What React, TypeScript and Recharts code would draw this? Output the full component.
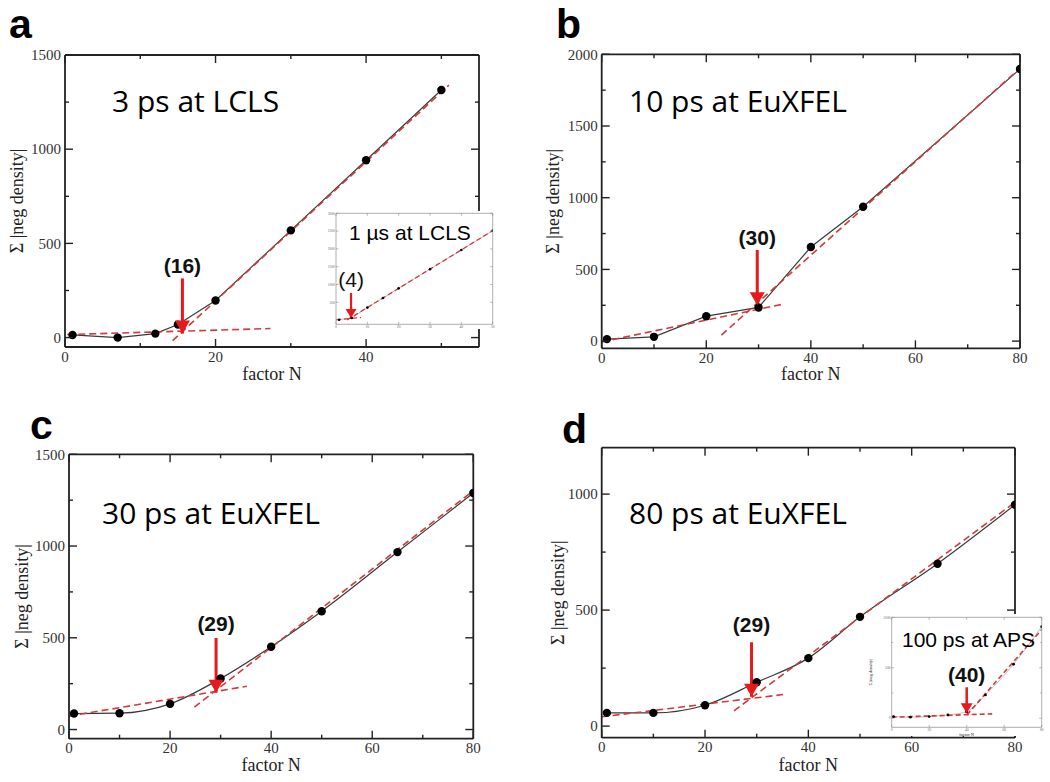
import React from 'react';
import { LineChart, Line, XAxis, YAxis } from 'recharts';

type Pt = { x: number; y: number };
const zip = (xs: number[], ys: number[]): Pt[] => xs.map((x, i) => ({ x, y: ys[i] }));

// ---------------- Panel a : 3 ps at LCLS ----------------
const aFactorN = [1, 7, 12, 15, 20, 30, 40, 50];
const aSumNeg = [14, 0, 21, 69, 197, 569, 941, 1314];
const aFitLowN = [0.3, 27.3];
const aFitLowSum = [16, 48];
const aFitHighN = [14.3, 51];
const aFitHighSum = [-16, 1340];
const aArrowN = [15.6, 15.6];
const aArrowSum = [314, 21];
const aArrowLabel = '(16)';
const aXMajor = [0, 20, 40];
const aXMinor = [10, 30, 50];
const aYMajor = [0, 500, 1000, 1500];
const aYMinor = [250, 750, 1250];

// inset of a : 1 µs at LCLS
const aiFactorN = [1, 5, 10, 15, 20, 30, 40, 50];
const aiSumNeg = [10, 60, 350, 620, 890, 1430, 1970, 2510];
const aiFitLowN = [0, 8];
const aiFitLowSum = [5, 70];
const aiFitHighN = [3.5, 52];
const aiFitHighSum = [0, 2620];
const aiArrowN = [4.8, 4.8];
const aiArrowSum = [763, 56];
const aiArrowLabel = '(4)';
const aiXMajor = [0, 10, 20, 30, 40, 50];
const aiYMajor = [500, 1000, 1500, 2000, 2500, 3000];

// ---------------- Panel b : 10 ps at EuXFEL ----------------
const bFactorN = [1, 10, 20, 30, 40, 50, 80];
const bSumNeg = [14, 30, 174, 235, 656, 937, 1898];
const bFitLowN = [0, 34.7];
const bFitLowSum = [-5, 258];
const bFitHighN = [22.9, 81.4];
const bFitHighSum = [42, 1949];
const bArrowN = [29.75, 29.75];
const bArrowSum = [635, 251];
const bArrowLabel = '(30)';
const bXMajor = [0, 20, 40, 60, 80];
const bXMinor = [10, 30, 50, 70];
const bYMajor = [0, 500, 1000, 1500, 2000];
const bYMinor = [250, 750, 1250, 1750];

// ---------------- Panel c : 30 ps at EuXFEL ----------------
const cFactorN = [1, 10, 20, 30, 40, 50, 65, 80];
const cSumNeg = [87, 89, 140, 278, 451, 645, 967, 1289];
const cFitLowN = [0, 35.2];
const cFitLowSum = [73, 236];
const cFitHighN = [24.8, 80.1];
const cFitHighSum = [122, 1304];
const cArrowN = [29.1, 29.1];
const cArrowSum = [499, 200];
const cArrowLabel = '(29)';
const cXMajor = [0, 20, 40, 60, 80];
const cXMinor = [10, 30, 50, 70];
const cYMajor = [0, 500, 1000, 1500];
const cYMinor = [250, 750, 1250];

// ---------------- Panel d : 80 ps at EuXFEL ----------------
const dFactorN = [1, 10, 20, 30, 40, 50, 65, 80];
const dSumNeg = [57, 57, 90, 189, 293, 471, 700, 954];
const dFitLowN = [0, 35.1];
const dFitLowSum = [40, 136];
const dFitHighN = [25.6, 81.7];
const dFitHighSum = [66, 993];
const dArrowN = [29, 29];
const dArrowSum = [361, 126];
const dArrowLabel = '(29)';
const dXMajor = [0, 20, 40, 60, 80];
const dXMinor = [10, 30, 50, 70];
const dYMajor = [0, 500, 1000];
const dYMinor = [250, 750];

// inset of d : 100 ps at APS
const diFactorN = [1, 10, 20, 30, 40, 50, 65, 80];
const diSumNeg = [16, 10, 16, 33, 65, 231, 535, 907];
const diFitLowN = [0, 53.6];
const diFitLowSum = [10, 43];
const diFitHighN = [40.1, 80.6];
const diFitHighSum = [33, 891];
const diArrowN = [40, 40];
const diArrowSum = [307, 50];
const diArrowLabel = '(40)';
const diXMajor = [0, 20, 40, 60, 80];
const diYMajor = [0, 500, 1000];
const diYMinor = [250, 750];

// titles / text
const xTitle = 'factor N';
const yTitle = 'Σ |neg density|';

const SERIF = '"Liberation Serif", "DejaVu Serif", serif';
const SANS = '"Liberation Sans", Arial, sans-serif';
const TITLE = '"Open Sans", "Noto Sans", sans-serif';
const RED_FIT = '#d23a3c';
const RED_ARROW = '#e6191d';

type TickOpts = {
  major: number; minor: number; color: string; width: number;
  labels: boolean; gap: number; fontSize: number; textColor: string;
};

function makeTick(side: 'bottom' | 'left' | 'top' | 'right', majors: number[], o: TickOpts) {
  return (props: any) => {
    const { x, y, payload } = props;
    const v = payload.value;
    const isMajor = majors.indexOf(v) >= 0;
    const len = isMajor ? o.major : o.minor;
    let x2 = x;
    let y2 = y;
    if (side === 'bottom') y2 = y - len;
    if (side === 'top') y2 = y + len;
    if (side === 'left') x2 = x + len;
    if (side === 'right') x2 = x - len;
    const showText = o.labels && isMajor && (side === 'bottom' || side === 'left');
    return (
      <g>
        <line x1={x} y1={y} x2={x2} y2={y2} stroke={o.color} strokeWidth={o.width} />
        {showText && side === 'bottom' && (
          <text x={x} y={y + o.gap} dy="0.71em" textAnchor="middle" fontFamily={SERIF} fontSize={o.fontSize} fill={o.textColor}>
            {String(v)}
          </text>
        )}
        {showText && side === 'left' && (
          <text x={x - o.gap} y={y} dy="0.35em" textAnchor="end" fontFamily={SERIF} fontSize={o.fontSize} fill={o.textColor}>
            {String(v)}
          </text>
        )}
      </g>
    );
  };
}

type ArrowOpts = { headW: number; headH: number; stroke: number; fontSize: number; bold: boolean; gap: number };

function makeArrowDot(label: string, o: ArrowOpts) {
  return (props: any) => {
    const { cx, cy, index } = props;
    if (index === 0) {
      return (
        <text key={`al${index}`} x={cx} y={cy - o.gap} textAnchor="middle" fontFamily={SANS} fontSize={o.fontSize} fontWeight={o.bold ? 'bold' : 'normal'} fill="#111">
          {label}
        </text>
      );
    }
    return (
      <polygon
        key={`ah${index}`}
        points={`${cx},${cy} ${cx - o.headW / 2},${cy - o.headH} ${cx + o.headW / 2},${cy - o.headH}`}
        fill={RED_ARROW}
        stroke="none"
      />
    );
  };
}

type PanelCfg = {
  left: number; top: number; width: number; height: number;
  margin: { top: number; right: number; bottom: number; left: number };
  yAxisWidth: number; xAxisHeight: number;
  xDomain: [number, number]; yDomain: [number, number];
  xMajor: number[]; xMinor: number[]; yMajor: number[]; yMinor: number[];
  data: Pt[]; fitLow: Pt[]; fitHigh: Pt[]; arrow: Pt[]; arrowLabel: string;
  curve: 'linear' | 'monotone';
  xLabel: string; yLabel: string; xLabelOffset: number; yLabelOffset: number; labelSize: number;
  tick: TickOpts; frameColor: string; frameWidth: number;
  dotR: number; lineColor: string; lineWidth: number;
  fitWidth: number; fitDash: string;
  arrowOpts: ArrowOpts;
  background?: string;
};

function Panel({ c }: { c: PanelCfg }) {
  const xAll = [...c.xMajor, ...c.xMinor].sort((p, q) => p - q);
  const yAll = [...c.yMajor, ...c.yMinor].sort((p, q) => p - q);
  const axisLine = { stroke: c.frameColor, strokeWidth: c.frameWidth };
  const noLabelTick: TickOpts = { ...c.tick, labels: false };
  return (
    <div style={{ position: 'absolute', left: c.left, top: c.top, width: c.width, height: c.height, background: c.background }}>
      <LineChart width={c.width} height={c.height} margin={c.margin}>
        <XAxis
          xAxisId="x" type="number" dataKey="x" domain={c.xDomain} allowDataOverflow
          ticks={xAll} interval={0} tickLine={false} tickSize={0} tickMargin={0}
          height={c.xAxisHeight} axisLine={axisLine} tick={makeTick('bottom', c.xMajor, c.tick)}
          label={c.xLabel ? { value: c.xLabel, position: 'insideBottom', offset: c.xLabelOffset, style: { fontFamily: SERIF, fontSize: c.labelSize, fill: '#222' } } : undefined}
        />
        <XAxis
          xAxisId="xt" orientation="top" mirror type="number" dataKey="x" domain={c.xDomain} allowDataOverflow
          ticks={xAll} interval={0} tickLine={false} tickSize={0} tickMargin={0}
          height={1} axisLine={axisLine} tick={makeTick('top', c.xMajor, noLabelTick)}
        />
        <YAxis
          yAxisId="y" type="number" domain={c.yDomain} allowDataOverflow
          ticks={yAll} interval={0} tickLine={false} tickSize={0} tickMargin={0}
          width={c.yAxisWidth} axisLine={axisLine} tick={makeTick('left', c.yMajor, c.tick)}
          label={c.yLabel ? { value: c.yLabel, angle: -90, position: 'insideLeft', offset: c.yLabelOffset, style: { textAnchor: 'middle', fontFamily: SERIF, fontSize: c.labelSize, fill: '#222' } } : undefined}
        />
        <YAxis
          yAxisId="yr" orientation="right" mirror type="number" domain={c.yDomain} allowDataOverflow
          ticks={yAll} interval={0} tickLine={false} tickSize={0} tickMargin={0}
          width={1} axisLine={axisLine} tick={makeTick('right', c.yMajor, noLabelTick)}
        />
        <Line
          xAxisId="x" yAxisId="y" data={c.data} dataKey="y" type={c.curve}
          stroke={c.lineColor} strokeWidth={c.lineWidth}
          dot={{ r: c.dotR, fill: '#000', stroke: '#000', strokeWidth: 0 }}
          activeDot={false} isAnimationActive={false}
        />
        <Line
          xAxisId="x" yAxisId="y" data={c.fitLow} dataKey="y" type="linear"
          stroke={RED_FIT} strokeWidth={c.fitWidth} strokeDasharray={c.fitDash}
          dot={false} activeDot={false} isAnimationActive={false}
        />
        <Line
          xAxisId="x" yAxisId="y" data={c.fitHigh} dataKey="y" type="linear"
          stroke={RED_FIT} strokeWidth={c.fitWidth} strokeDasharray={c.fitDash}
          dot={false} activeDot={false} isAnimationActive={false}
        />
        <Line
          xAxisId="x" yAxisId="y" data={c.arrow} dataKey="y" type="linear"
          stroke={RED_ARROW} strokeWidth={c.arrowOpts.stroke}
          dot={makeArrowDot(c.arrowLabel, c.arrowOpts)} activeDot={false} isAnimationActive={false}
        />
      </LineChart>
    </div>
  );
}

const mainTick: TickOpts = { major: 8, minor: 4, color: '#222', width: 1.4, labels: true, gap: 4, fontSize: 15, textColor: '#333' };
const insetTick: TickOpts = { major: 2.5, minor: 1.5, color: '#888', width: 0.6, labels: true, gap: 1.2, fontSize: 3.6, textColor: '#666' };
const mainArrow: ArrowOpts = { headW: 15, headH: 13, stroke: 3, fontSize: 21, bold: true, gap: 5 };

const mainBase = {
  width: 525, height: 391, yAxisWidth: 60, xAxisHeight: 40,
  xLabel: xTitle, yLabel: yTitle, labelSize: 18,
  tick: mainTick, frameColor: '#222', frameWidth: 1.8,
  dotR: 4.2, lineColor: '#3a3a3a', lineWidth: 1.2,
  fitWidth: 1.6, fitDash: '7 4',
};

const panelA: PanelCfg = {
  ...mainBase, left: 0, top: 0,
  margin: { top: 55, right: 46, bottom: 4, left: 5 },
  xDomain: [0, 55], yDomain: [-50, 1500],
  xMajor: aXMajor, xMinor: aXMinor, yMajor: aYMajor, yMinor: aYMinor,
  data: zip(aFactorN, aSumNeg), fitLow: zip(aFitLowN, aFitLowSum), fitHigh: zip(aFitHighN, aFitHighSum),
  arrow: zip(aArrowN, aArrowSum), arrowLabel: aArrowLabel, curve: 'linear',
  xLabelOffset: 7, yLabelOffset: 12,
  arrowOpts: { ...mainArrow, gap: 5 },
};

const panelB: PanelCfg = {
  ...mainBase, left: 525, top: 0,
  margin: { top: 54.3, right: 30, bottom: 2.7, left: 16.7 },
  xDomain: [0, 80], yDomain: [-50, 2000],
  xMajor: bXMajor, xMinor: bXMinor, yMajor: bYMajor, yMinor: bYMinor,
  data: zip(bFactorN, bSumNeg), fitLow: zip(bFitLowN, bFitLowSum), fitHigh: zip(bFitHighN, bFitHighSum),
  arrow: zip(bArrowN, bArrowSum), arrowLabel: bArrowLabel, curve: 'linear',
  xLabelOffset: 8.3, yLabelOffset: 11.3,
  arrowOpts: { ...mainArrow, gap: 5 },
};

const panelC: PanelCfg = {
  ...mainBase, left: 0, top: 391,
  margin: { top: 63.3, right: 51.7, bottom: 3.3, left: 9 },
  xDomain: [0, 80], yDomain: [-50, 1500],
  xMajor: cXMajor, xMinor: cXMinor, yMajor: cYMajor, yMinor: cYMinor,
  data: zip(cFactorN, cSumNeg), fitLow: zip(cFitLowN, cFitLowSum), fitHigh: zip(cFitHighN, cFitHighSum),
  arrow: zip(cArrowN, cArrowSum), arrowLabel: cArrowLabel, curve: 'monotone',
  xLabelOffset: 7.7, yLabelOffset: 12.7,
  arrowOpts: { ...mainArrow, gap: 7 },
};

const panelD: PanelCfg = {
  ...mainBase, left: 525, top: 391,
  margin: { top: 56.7, right: 35, bottom: 4.3, left: 16.7 },
  xDomain: [0, 80], yDomain: [-50, 1200],
  xMajor: dXMajor, xMinor: dXMinor, yMajor: dYMajor, yMinor: dYMinor,
  data: zip(dFactorN, dSumNeg), fitLow: zip(dFitLowN, dFitLowSum), fitHigh: zip(dFitHighN, dFitHighSum),
  arrow: zip(dArrowN, dArrowSum), arrowLabel: dArrowLabel, curve: 'monotone',
  xLabelOffset: 6.7, yLabelOffset: 16.3,
  arrowOpts: { ...mainArrow, gap: 10 },
};

const insetA: PanelCfg = {
  left: 328, top: 211, width: 167, height: 118,
  margin: { top: 2.3, right: 2.3, bottom: 0, left: 0 },
  yAxisWidth: 8, xAxisHeight: 4.7,
  xDomain: [0, 50], yDomain: [-120, 3000],
  xMajor: aiXMajor, xMinor: [], yMajor: aiYMajor, yMinor: [],
  data: zip(aiFactorN, aiSumNeg), fitLow: zip(aiFitLowN, aiFitLowSum), fitHigh: zip(aiFitHighN, aiFitHighSum),
  arrow: zip(aiArrowN, aiArrowSum), arrowLabel: aiArrowLabel, curve: 'linear',
  xLabel: '', yLabel: '', xLabelOffset: 0, yLabelOffset: 0, labelSize: 4,
  tick: insetTick, frameColor: '#999', frameWidth: 0.8,
  dotR: 1.3, lineColor: '#777', lineWidth: 0.5,
  fitWidth: 1.3, fitDash: '5 3',
  arrowOpts: { headW: 11, headH: 9, stroke: 2.2, fontSize: 21, bold: false, gap: 6 },
  background: '#fff',
};

const insetD: PanelCfg = {
  left: 866, top: 614, width: 180, height: 122,
  margin: { top: 3.3, right: 4.3, bottom: 0, left: 0 },
  yAxisWidth: 25.7, xAxisHeight: 8.7,
  xDomain: [0, 80], yDomain: [-90, 1000],
  xMajor: diXMajor, xMinor: [], yMajor: diYMajor, yMinor: diYMinor,
  data: zip(diFactorN, diSumNeg), fitLow: zip(diFitLowN, diFitLowSum), fitHigh: zip(diFitHighN, diFitHighSum),
  arrow: zip(diArrowN, diArrowSum), arrowLabel: diArrowLabel, curve: 'monotone',
  xLabel: xTitle, yLabel: yTitle, xLabelOffset: 0, yLabelOffset: 4, labelSize: 4.5,
  tick: insetTick, frameColor: '#999', frameWidth: 0.8,
  dotR: 1.4, lineColor: '#999', lineWidth: 0.6,
  fitWidth: 1.6, fitDash: '5 3',
  arrowOpts: { headW: 12, headH: 10, stroke: 2.5, fontSize: 21, bold: true, gap: 5.6 },
  background: '#fff',
};

const panelLetters = [
  { t: 'a', x: 9, y: 38 },
  { t: 'b', x: 556, y: 38 },
  { t: 'c', x: 30, y: 439 },
  { t: 'd', x: 562, y: 443 },
];

const panelTitles = [
  { t: '3 ps at LCLS', x: 112, y: 111.7, size: 30, font: TITLE },
  { t: '10 ps at EuXFEL', x: 629, y: 111.7, size: 30, font: TITLE },
  { t: '30 ps at EuXFEL', x: 102, y: 524.3, size: 30, font: TITLE },
  { t: '80 ps at EuXFEL', x: 629, y: 524.3, size: 30, font: TITLE },
  { t: '1 µs at LCLS', x: 349, y: 240, size: 21, font: SANS },
  { t: '100 ps at APS', x: 902, y: 646.7, size: 21, font: SANS },
];

export default function App() {
  return (
    <div style={{ position: 'absolute', left: 0, top: 0, width: 1050, height: 782, background: '#fff', overflow: 'hidden' }}>
      <Panel c={panelA} />
      <Panel c={panelB} />
      <Panel c={panelC} />
      <Panel c={panelD} />
      <Panel c={insetA} />
      <Panel c={insetD} />
      <svg width={1050} height={782} style={{ position: 'absolute', left: 0, top: 0, pointerEvents: 'none' }}>
        {panelLetters.map((l) => (
          <text key={l.t} x={l.x} y={l.y} fontFamily={SANS} fontWeight="bold" fontSize={41} fill="#000">
            {l.t}
          </text>
        ))}
        {panelTitles.map((p) => (
          <text key={p.t} x={p.x} y={p.y} fontFamily={p.font} fontSize={p.size} fill="#000">
            {p.t}
          </text>
        ))}
      </svg>
    </div>
  );
}
